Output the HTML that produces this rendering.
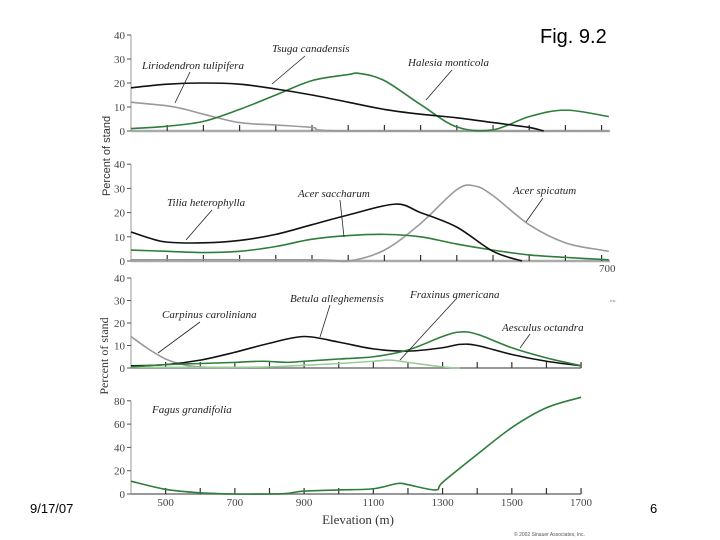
<!DOCTYPE html>
<html><head><meta charset="utf-8"><style>
body{margin:0;background:#fff;width:720px;height:540px;overflow:hidden}
svg{position:absolute;left:0;top:0}
.lbl{font-family:"Liberation Serif",serif;font-style:italic;font-size:11px;fill:#222}
.tk{font-family:"Liberation Serif",serif;font-size:11px;fill:#444}
</style></head><body>
<svg id="chart" width="720" height="540" viewBox="0 0 720 540">
<text x="540" y="43" font-family="Liberation Sans,sans-serif" font-size="20" fill="#000">Fig. 9.2</text>
<text x="30" y="513" font-family="Liberation Sans,sans-serif" font-size="13" fill="#000">9/17/07</text>
<text x="650" y="513" font-family="Liberation Sans,sans-serif" font-size="13" fill="#000">6</text>
<text x="599" y="272" class="tk" font-size="10">700</text>
<text x="608" y="302" font-family="Liberation Sans,sans-serif" font-size="4" fill="#777">, Inc.</text>
<text x="514" y="536" font-family="Liberation Sans,sans-serif" font-size="5" fill="#555">© 2002 Sinauer Associates, Inc.</text>
<text transform="translate(110,156) rotate(-90)" text-anchor="middle" font-family="Liberation Sans,sans-serif" font-size="11" fill="#333">Percent of stand</text>
<text transform="translate(108,356) rotate(-90)" text-anchor="middle" font-family="Liberation Serif,serif" font-size="12" fill="#333">Percent of stand</text>
<text x="358" y="524" text-anchor="middle" font-family="Liberation Serif,serif" font-size="13" fill="#333">Elevation (m)</text>
</svg>
<script>
// Panel 1
const p1LirioX=[400,500,550,600,700,800,900,1000,1720];
const p1LirioY=[12,10.5,9,7,3.5,2.5,1.5,0,0];
const p1TsugaX=[400,500,600,700,800,900,1000,1100,1200,1300,1400,1500,1540];
const p1TsugaY=[18,19.5,20,19.5,17.5,15,12,9,7,5.5,3.5,1.5,0];
const p1HalesiaX=[400,500,600,700,800,900,1000,1030,1100,1200,1300,1400,1500,1600,1720];
const p1HalesiaY=[1,2,4,9,15,21,23.5,24,21,11,1.7,0.5,6,8.7,6];
// Panel 2
const p2TiliaX=[400,450,500,600,700,800,900,1000,1130,1200,1300,1400,1480];
const p2TiliaY=[12,9.5,7.8,7.5,8.5,11,15,19,23.5,20,14,4,0];
const p2SacchX=[400,500,600,700,800,900,1000,1100,1200,1300,1400,1500,1600,1720];
const p2SacchY=[4.5,4,3.5,4,6,9,10.5,11,10,7,4.5,2.5,1.5,0.5];
const p2SpicX=[400,900,1000,1100,1200,1300,1350,1400,1500,1600,1700,1720];
const p2SpicY=[0.5,0.5,0,4.5,15.5,29.5,31,27,15,7.5,4.5,4];
// Panel 3
const p3CarpX=[400,450,500,550,600,700];
const p3CarpY=[14,8.5,4,1.5,0.5,0];
const p3FraxX=[400,700,800,900,1000,1100,1150,1200,1300,1350];
const p3FraxY=[0.3,0.3,0.5,1.2,2,3,3.5,2.5,0.5,0];
const p3BetulaX=[400,500,600,700,800,900,1000,1100,1200,1300,1350,1400,1500,1600,1700];
const p3BetulaY=[1,1.5,3.5,7,11,14,11.5,8.5,7.5,9,10.5,10,6,3,1];
const p3AescX=[400,500,600,700,780,850,900,1000,1100,1200,1300,1350,1400,1500,1600,1700];
const p3AescY=[0.5,1.5,2,2.5,3,2.5,3,4,5,8,14,16,15,9,4.5,1];
// Panel 4
const p4FagusX=[400,500,600,700,800,850,900,1000,1100,1170,1200,1280,1300,1400,1500,1600,1700];
const p4FagusY=[11,4,1,0,0,0.5,2.5,3.5,4.5,9,8,3.5,10,34,57,74,83];
const topTicks=[0,10,20,30,40];
const bottomTicks=[0,20,40,60,80];
const xLabels=[500,700,900,1100,1300,1500,1700];

const svg=document.getElementById('chart');
const NS='http://www.w3.org/2000/svg';
function mk(tag,attrs){const e=document.createElementNS(NS,tag);for(const k in attrs)e.setAttribute(k,attrs[k]);svg.appendChild(e);return e;}
const topX=e=>131+(e-400)*0.362;
const botX=e=>131+(e-400)*0.3462;
const panels=[
 {x:topX,y0:131,k:2.4,ymax:40,ticks:topTicks,end:1723,name:'panel-1'},
 {x:topX,y0:261,k:2.42,ymax:40,ticks:topTicks,end:1723,name:'panel-2'},
 {x:botX,y0:368,k:2.25,ymax:40,ticks:topTicks,end:1700,name:'panel-3'},
 {x:botX,y0:494,k:1.165,ymax:80,ticks:bottomTicks,end:1700,name:'panel-4'}];
function smooth(pts){let d='M'+pts[0][0]+','+pts[0][1];for(let i=0;i<pts.length-1;i++){const p0=pts[i-1]||pts[i],p1=pts[i],p2=pts[i+1],p3=pts[i+2]||p2;
 d+=' C'+(p1[0]+(p2[0]-p0[0])/6)+','+(p1[1]+(p2[1]-p0[1])/6)+' '+(p2[0]-(p3[0]-p1[0])/6)+','+(p2[1]-(p3[1]-p1[1])/6)+' '+p2[0]+','+p2[1];}return d;}
panels.forEach((p,i)=>{
 const ax=mk('line',{x1:131,y1:p.y0,x2:p.x(p.end),y2:p.y0,stroke:i<2?'#aaa':'#777','stroke-width':i<2?2.5:1.5});
 
 
 const ay=mk('line',{x1:131,y1:p.y0,x2:131,y2:p.y0-p.ymax*p.k,stroke:'#999','stroke-width':1});
 
 
 for(let e=500;e<=1700;e+=100){const t=mk('line',{x1:p.x(e),x2:p.x(e),y1:p.y0,y2:p.y0-6,stroke:'#333','stroke-width':1.2});
  
  }
 p.ticks.forEach(v=>{const y=p.y0-v*p.k;
  const t=mk('line',{x1:127,x2:131,y1:y,y2:y,stroke:'#555'});
  
  
  const l=mk('text',{x:125,y:y+4,'text-anchor':'end',class:'tk'});l.textContent=v;
  
  });
});
xLabels.forEach(v=>{const l=mk('text',{x:botX(v),y:506,'text-anchor':'middle',class:'tk',
 'font-size':'12'});l.textContent=v;
 
 });
function series(pi,xs,ys,color,name,w){const p=panels[pi];
 const pts=xs.map((x,i)=>[p.x(x),p.y0-ys[i]*p.k]);
 const e=mk('path',{d:smooth(pts),fill:'none',stroke:color,'stroke-width':w||1.6});
 
 }
const G='#2e7d3a',K='#111',GR='#999';
series(0,p1LirioX,p1LirioY,GR,'liriodendron-line');
series(0,p1HalesiaX,p1HalesiaY,G,'halesia-line');
series(0,p1TsugaX,p1TsugaY,K,'tsuga-line');
series(1,p2SpicX,p2SpicY,GR,'acer-spicatum-line');
series(1,p2SacchX,p2SacchY,G,'acer-saccharum-line');
series(1,p2TiliaX,p2TiliaY,K,'tilia-line');
series(2,p3CarpX,p3CarpY,GR,'carpinus-line');
series(2,p3FraxX,p3FraxY,'#9c9','fraxinus-line');
series(2,p3BetulaX,p3BetulaY,K,'betula-line');
series(2,p3AescX,p3AescY,G,'aesculus-line');
series(3,p4FagusX,p4FagusY,G,'fagus-line');
const labels=[
 ['Liriodendron tulipifera',142,69,175,103,190,72],
 ['Tsuga canadensis',272,52,272,84,305,56],
 ['Halesia monticola',408,66,426,100,452,70],
 ['Tilia heterophylla',167,206,186,240,212,210],
 ['Acer saccharum',298,197,344,237,340,200],
 ['Acer spicatum',513,194,526,222,543,198],
 ['Carpinus caroliniana',162,318,158,353,200,322],
 ['Betula alleghemensis',290,302,320,337,330,305],
 ['Fraxinus americana',410,298,400,360,457,298],
 ['Aesculus octandra',502,331,520,348,530,334],
 ['Fagus grandifolia',152,413,0,0,0,0]];
labels.forEach(l=>{const t=mk('text',{x:l[1],y:l[2],class:'lbl'});t.textContent=l[0];
 
 
 if(l[3]){const ln=mk('line',{x1:l[3],y1:l[4],x2:l[5],y2:l[6],stroke:'#222','stroke-width':0.8});
  
  }});
</script>
</body></html>
